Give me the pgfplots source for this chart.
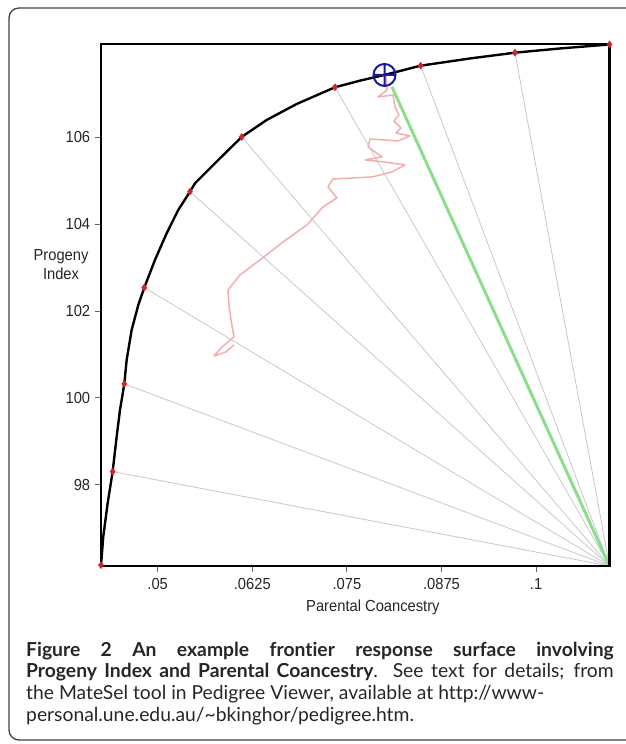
\documentclass[border=0pt]{standalone}
\usepackage{pgfplots}
\pgfplotsset{compat=1.18}
\usepackage{fontspec}
\setmainfont{Lato}
\newfontfamily\chartfont[FakeStretch=0.92]{Liberation Sans}
\newfontfamily\capfont[Ligatures=NoCommon]{Lato}
\definecolor{mkred}{RGB}{200,40,45}
\definecolor{pathpink}{RGB}{245,172,172}
\definecolor{selgreen}{RGB}{140,222,140}
\definecolor{raygray}{RGB}{200,200,200}
\definecolor{selblue}{RGB}{25,25,165}
\begin{document}
\begin{tikzpicture}[x=1pt,y=1pt]
\useasboundingbox (0,0) rectangle (625,744);
\draw[line width=1.3pt, black!75, rounded corners=10pt] (9,4) rectangle (690,736);
\begin{axis}[
  at={(100.7pt,178pt)}, anchor=south west,
  width=508.8pt, height=522pt, scale only axis,
  xmin=0.04247, xmax=0.1097, ymin=96.13, ymax=108.147,
  axis line style={black, line width=2.2pt},
  xtick={0.05,0.0625,0.075,0.0875,0.1},
  xticklabels={.05,.0625,.075,.0875,.1},
  ytick={98,100,102,104,106},
  yticklabels={98,100,102,104,106},
  tick align=outside, xtick pos=bottom, ytick pos=left,
  major tick length=6pt,
  tick style={black!60, line width=0.8pt},
  ticklabel style={font=\chartfont\fontsize{16}{16}\selectfont, text=black!85},
  xticklabel style={yshift=-3pt},
  yticklabel style={xshift=-1pt},
  xlabel={Parental Coancestry},
  ylabel={Progeny\\Index},
  every axis x label/.style={at={(axis description cs:0.535,0)}, anchor=center, yshift=-41pt,
     font=\chartfont\fontsize{16}{16}\selectfont, text=black!85},
  every axis y label/.style={at={(axis description cs:-0.078,0.578)}, anchor=center, align=center,
     font=\chartfont\fontsize{16}{19}\selectfont, text=black!85},
  clip=false, axis on top,
]
% rays from the corner to each frontier point
\addplot[raygray, line width=0.8pt] coordinates {(0.1097,96.13) (0.04405,98.304)};
\addplot[raygray, line width=0.8pt] coordinates {(0.1097,96.13) (0.04559,100.322)};
\addplot[raygray, line width=0.8pt] coordinates {(0.1097,96.13) (0.04823,102.539)};
\addplot[raygray, line width=0.8pt] coordinates {(0.1097,96.13) (0.05427,104.748)};
\addplot[raygray, line width=0.8pt] coordinates {(0.1097,96.13) (0.0611,106.007)};
\addplot[raygray, line width=0.8pt] coordinates {(0.1097,96.13) (0.07343,107.151)};
\addplot[raygray, line width=0.8pt] coordinates {(0.1097,96.13) (0.08475,107.648)};
\addplot[raygray, line width=0.8pt] coordinates {(0.1097,96.13) (0.09721,107.947)};
% search path
\addplot[pathpink, line width=1.5pt, line join=round] coordinates {
(0.08017,107.399) (0.0803,107.089) (0.07911,106.927) (0.08109,106.974) (0.08136,106.697)
(0.08188,106.513) (0.08122,106.375) (0.08215,106.214) (0.08149,106.099) (0.08334,106.03)
(0.08175,105.915) (0.07805,105.961) (0.07779,105.777) (0.07964,105.547) (0.07739,105.478)
(0.0799,105.432) (0.08268,105.363) (0.08096,105.201) (0.07832,105.086) (0.07316,105.04)
(0.0725,104.856) (0.07369,104.603) (0.07184,104.396) (0.06973,103.982) (0.06656,103.590)
(0.06352,103.176) (0.06087,102.831) (0.05929,102.486) (0.05942,102.140) (0.05969,101.795)
(0.06008,101.404) (0.0585,101.174) (0.05744,100.967) (0.05902,101.059) (0.06008,101.220)};
% selected ray
\addplot[selgreen, line width=3pt] coordinates {(0.1097,96.13) (0.08096,107.158)};
% frontier
\addplot[black, line width=2.4pt, line join=round] coordinates {
(0.04251,96.15) (0.04281,96.808) (0.04339,97.577) (0.04405,98.304) (0.04458,99.109)
(0.04502,99.724) (0.04559,100.322) (0.0459,100.875) (0.04656,101.565) (0.04744,102.14)
(0.04823,102.539) (0.04964,103.176) (0.05119,103.791) (0.05272,104.327) (0.05427,104.748)
(0.05493,104.941) (0.05801,105.478) (0.0611,106.007) (0.0644,106.398) (0.06837,106.766)
(0.07343,107.151) (0.07673,107.303) (0.07997,107.434) (0.08475,107.648) (0.09127,107.814)
(0.09721,107.947) (0.10316,108.044) (0.1097,108.136)};
% frontier points
\addplot[only marks, mark=diamond*, mark size=3.5pt, mkred, mark options={draw=mkred, fill=mkred}] coordinates {
(0.04251,96.15) (0.04405,98.304) (0.04559,100.322) (0.04823,102.539) (0.05427,104.748)
(0.0611,106.007) (0.07343,107.151) (0.08475,107.648) (0.09721,107.947) (0.1097,108.136)};
% selected point
\addplot[only marks, mark=oplus, mark size=11pt, selblue, mark options={line width=2pt, draw=selblue, fill=none}] coordinates {(0.07997,107.434)};
\end{axis}
\node[anchor=north west, text width=587.5pt, align=justify, inner sep=0pt,
  font=\capfont\fontsize{19.3}{21.8}\selectfont, text=black!85] at (26,102.5)
{\textbf{Figure 2 An example frontier response surface involving\linebreak Progeny Index and Parental Coancestry}. See text for details; from\linebreak the MateSel tool in Pedigree Viewer, available at http://www-\newline personal.une.edu.au/\textasciitilde bkinghor/pedigree.htm.};
\end{tikzpicture}
\end{document}
